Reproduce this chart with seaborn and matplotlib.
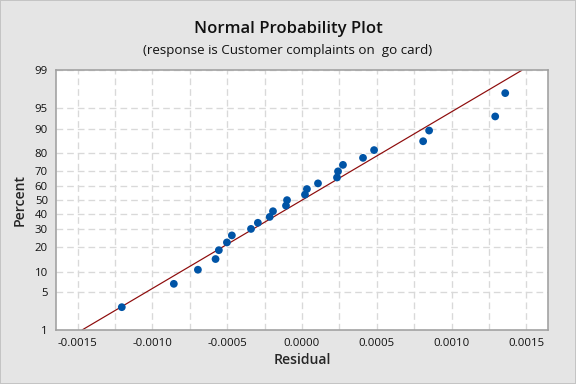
import numpy as np
import pandas as pd
import matplotlib
matplotlib.use("Agg")
import matplotlib.pyplot as plt
import matplotlib.ticker as mticker
import seaborn as sns
from statistics import NormalDist

# residuals (sorted)
residuals = [-0.001205, -0.000857, -0.000696, -0.000578, -0.000556, -0.000502,
             -0.000469, -0.000341, -0.000295, -0.000216, -0.000194, -0.000107,
             -0.000100, 0.000020, 0.000033, 0.000107, 0.000234, 0.000241,
             0.000274, 0.000408, 0.000482, 0.000810, 0.000850, 0.001292, 0.001359]
# plotted percent (median ranks shown on the chart)
percents = [2.76, 6.69, 10.63, 14.57, 18.50, 22.44, 26.38, 30.31, 34.25,
            38.19, 42.13, 46.06, 50.00, 53.94, 57.87, 61.81, 65.75, 69.69,
            73.62, 77.56, 81.50, 85.43, 89.37, 93.31, 97.24]

pct_ticks = [1, 5, 10, 20, 30, 40, 50, 60, 70, 80, 90, 95, 99]
x_ticks = [-0.0015, -0.0010, -0.0005, 0.0, 0.0005, 0.0010, 0.0015]

title = "Normal Probability Plot"
subtitle = "(response is Customer complaints on  go card)"

nd = NormalDist()


def _fwd_one(v):
    if not np.isfinite(v):
        return np.nan
    v = min(max(v, 1e-7), 100 - 1e-7)
    return nd.inv_cdf(v / 100.0)


def _inv_one(v):
    if not np.isfinite(v):
        return np.nan
    return nd.cdf(v) * 100.0


fwd = np.vectorize(_fwd_one, otypes=[float])
inv = np.vectorize(_inv_one, otypes=[float])

df = pd.DataFrame({"Residual": residuals, "Percent": percents})

# fitted line from mean / std of residuals
mu = np.mean(residuals)
sd = np.std(residuals, ddof=1)
line_pct = [1, 99]
line_df = pd.DataFrame({
    "Residual": [mu + sd * nd.inv_cdf(p / 100) for p in line_pct],
    "Percent": line_pct,
})

sns.set_style("white")
plt.rcParams["font.family"] = ["Open Sans", "DejaVu Sans"]

fig = plt.figure(figsize=(6, 4), dpi=96, facecolor="#e5e5e5",
                 edgecolor="#c4c4c4", linewidth=1.5)
ax = fig.add_axes([0.0972, 0.1406, 0.8547, 0.6764])
ax.set_facecolor("white")

ax.set_yscale("function", functions=(fwd, inv))
ax.set_ylim(1, 99)
ax.set_xlim(-0.001645, 0.001647)

sns.lineplot(data=line_df, x="Residual", y="Percent", ax=ax,
             color="#8e0c0c", linewidth=0.9, sort=False)
sns.scatterplot(data=df, x="Residual", y="Percent", ax=ax,
                color="#0054a6", s=34, edgecolor="none", zorder=3)

ax.yaxis.set_major_locator(mticker.FixedLocator(pct_ticks))
ax.yaxis.set_major_formatter(mticker.FixedFormatter([str(t) for t in pct_ticks]))
ax.yaxis.set_minor_locator(mticker.NullLocator())
ax.xaxis.set_major_locator(mticker.FixedLocator(x_ticks))
ax.xaxis.set_major_formatter(mticker.FormatStrFormatter("%.4f"))
ax.xaxis.set_minor_locator(mticker.MultipleLocator(0.00025))

ax.grid(True, which="major", axis="y", color="#d9d9d9", linestyle=(0, (5, 3)), linewidth=1)
ax.grid(True, which="both", axis="x", color="#d9d9d9", linestyle=(0, (5, 3)), linewidth=1)
ax.set_axisbelow(True)

for s in ax.spines.values():
    s.set_color("#a0a0a0")
    s.set_linewidth(1.2)

ax.tick_params(axis="both", which="major", length=4, width=1, color="#a0a0a0",
               labelsize=8.5, pad=2, labelcolor="#111111")
ax.tick_params(axis="x", which="minor", length=0)

ax.set_xlabel("Residual", fontsize=10.5, fontweight="semibold", labelpad=3)
ax.set_ylabel("Percent", fontsize=10.5, fontweight="semibold", labelpad=6)

fig.text(0.5, 0.925, title, ha="center", va="center", fontsize=12.5,
         fontweight="semibold", color="#111111")
fig.text(0.5, 0.868, subtitle, ha="center", va="center", fontsize=10,
         color="#111111")

fig.savefig("out.png", dpi=96, facecolor=fig.get_facecolor(), edgecolor=fig.get_edgecolor())
